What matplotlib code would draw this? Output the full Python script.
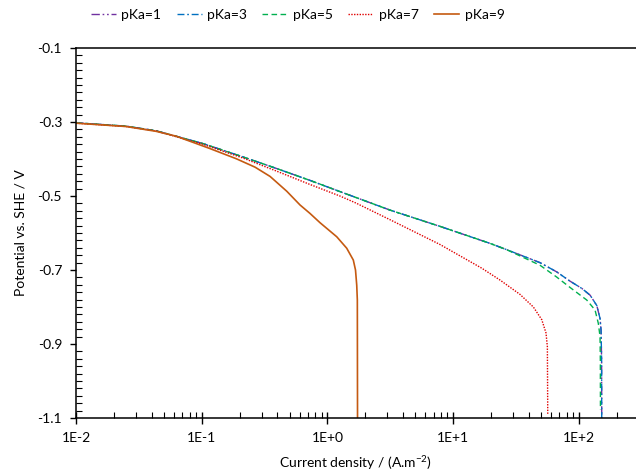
import numpy as np
import matplotlib
matplotlib.use("Agg")
import matplotlib.pyplot as plt
from matplotlib.ticker import FixedLocator, MultipleLocator, LogLocator, NullFormatter

plt.rcParams['font.family'] = ['Lato', 'DejaVu Sans']
plt.rcParams['mathtext.fontset'] = 'custom'
plt.rcParams['mathtext.rm'] = 'Lato'

# polarisation curves, current density (A/m2) vs potential (V vs SHE)
i_pka1 = [0.01, 0.025, 0.0433, 0.102, 0.212, 0.390, 0.718, 1.26, 1.69, 3.15, 7.87, 19.7,
          26.7, 49.1, 66.7, 85.1, 106, 123, 139, 147.5, 150.2, 151.8, 152.1]
e_pka1 = [-0.302, -0.311, -0.3235, -0.358, -0.394, -0.425, -0.457, -0.488, -0.504, -0.538,
          -0.582, -0.628, -0.645, -0.680, -0.705, -0.730, -0.750, -0.768, -0.796, -0.831,
          -0.862, -0.943, -1.100]

i_pka3 = [0.01, 0.025, 0.0433, 0.102, 0.212, 0.390, 0.718, 1.26, 1.69, 3.15, 7.87, 19.7,
          26.7, 49.1, 66.7, 85.1, 106, 123, 139, 147.5, 150.2, 151.8, 152.1]
e_pka3 = [-0.302, -0.311, -0.3235, -0.358, -0.394, -0.425, -0.457, -0.488, -0.504, -0.538,
          -0.582, -0.628, -0.645, -0.680, -0.705, -0.730, -0.750, -0.768, -0.796, -0.831,
          -0.862, -0.943, -1.100]

i_pka5 = [0.01, 0.025, 0.0433, 0.102, 0.212, 0.390, 0.718, 1.26, 1.69, 3.15, 7.87, 19.7,
          26.7, 49.1, 66.7, 85.1, 115.6, 134.6, 142.9, 147.5, 148.3, 148.6]
e_pka5 = [-0.302, -0.311, -0.3235, -0.358, -0.394, -0.425, -0.457, -0.488, -0.504, -0.538,
          -0.582, -0.628, -0.645, -0.687, -0.719, -0.747, -0.781, -0.808, -0.844, -0.880,
          -0.943, -1.078]

i_pka7 = [0.01, 0.025, 0.0433, 0.102, 0.212, 0.390, 0.718, 1.26, 1.69, 3.15, 7.87, 16.9,
          23.6, 34.1, 43.5, 50.7, 54.8, 56.2, 56.6]
e_pka7 = [-0.303, -0.312, -0.324, -0.360, -0.397, -0.432, -0.468, -0.500, -0.519, -0.564,
          -0.631, -0.695, -0.727, -0.766, -0.800, -0.834, -0.870, -0.907, -1.092]

i_pka9 = [0.01, 0.025, 0.0433, 0.0624, 0.115, 0.188, 0.266, 0.350, 0.475, 0.605, 0.727,
          0.873, 1.186, 1.424, 1.607, 1.673, 1.711, 1.730, 1.736]
e_pka9 = [-0.303, -0.312, -0.325, -0.338, -0.371, -0.399, -0.422, -0.447, -0.487, -0.524,
          -0.547, -0.572, -0.610, -0.641, -0.673, -0.700, -0.741, -0.781, -1.100]

fig = plt.figure(figsize=(6.36, 4.76), dpi=100)
ax = fig.add_axes([0.1195, 0.1218, 0.8805, 0.7772])

ax.plot(i_pka1, e_pka1, color='#7030A0', lw=1.0, ls=(0, (6, 2, 1.2, 2, 1.2, 2)), label='pKa=1')
ax.plot(i_pka3, e_pka3, color='#0070C0', lw=1.0, ls=(0, (5, 2, 1.2, 2)), label='pKa=3')
ax.plot(i_pka5, e_pka5, color='#00B050', lw=1.0, ls=(0, (4, 2.5)), label='pKa=5')
ax.plot(i_pka7, e_pka7, color='#E00000', lw=1.0, ls=(0, (1, 1)), label='pKa=7')
ax.plot(i_pka9, e_pka9, color='#C55A11', lw=1.2, ls='-', label='pKa=9')

ax.set_xscale('log')
ax.set_xlim(0.01, 285)
ax.set_ylim(-1.1, -0.1)

ax.xaxis.set_major_locator(FixedLocator([1e-2, 1e-1, 1e0, 1e1, 1e2]))
ax.set_xticklabels(['1E-2', '1E-1', '1E+0', '1E+1', '1E+2'])
ax.xaxis.set_minor_locator(LogLocator(base=10, subs=np.arange(2, 10)))
ax.xaxis.set_minor_formatter(NullFormatter())

ax.set_yticks([-1.1, -0.9, -0.7, -0.5, -0.3, -0.1])
ax.set_yticklabels(['-1.1', '-0.9', '-0.7', '-0.5', '-0.3', '-0.1'])
ax.yaxis.set_minor_locator(MultipleLocator(0.02))

ax.spines['right'].set_visible(False)
for s in ['left', 'bottom', 'top']:
    ax.spines[s].set_linewidth(1.1)

ax.tick_params(axis='x', which='major', direction='inout', length=8, width=1, labelsize=10, pad=6)
ax.tick_params(axis='x', which='minor', direction='in', length=4, width=0.8)
ax.tick_params(axis='y', which='major', direction='out', length=4, width=1, labelsize=10, pad=6)
ax.tick_params(axis='y', which='minor', direction='in', length=4, width=0.8)

ax.set_xlabel('Current density / (A.m$^{-2}$)', fontsize=10, labelpad=7)
ax.set_ylabel('Potential vs. SHE / V', fontsize=10, labelpad=8)

fig.legend(loc='center', bbox_to_anchor=(0.468, 0.968), ncol=5, frameon=False, fontsize=10,
           handlelength=1.8, handletextpad=0.4, columnspacing=1.1)

fig.savefig('out.png', dpi=100)
